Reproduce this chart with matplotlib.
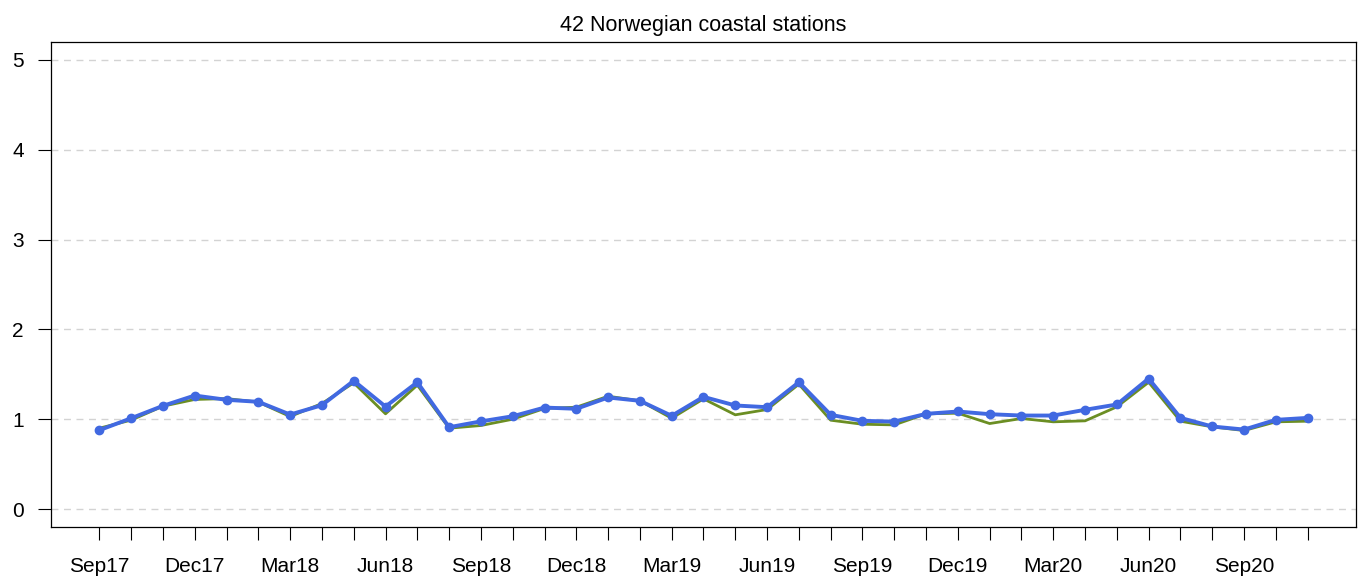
import numpy as np
import pandas as pd
import matplotlib.pyplot as plt
from matplotlib import rcParams
rcParams['font.family'] = ['Liberation Sans', 'DejaVu Sans']

# monthly values, Sep 2017 .. Nov 2020
months = pd.date_range('2017-09-01', periods=39, freq='MS')
green = [0.90, 0.99, 1.145, 1.22, 1.23, 1.19, 1.03, 1.175, 1.405, 1.06,
         1.38, 0.90, 0.93, 1.00, 1.12, 1.134, 1.256, 1.205, 1.011, 1.227,
         1.049, 1.108, 1.39, 0.989, 0.944, 0.937, 1.06, 1.067, 0.952, 1.008,
         0.971, 0.982, 1.138, 1.412, 0.978, 0.915, 0.874, 0.971, 0.978]
blue = [0.878, 1.011, 1.149, 1.264, 1.216, 1.194, 1.052, 1.156, 1.428, 1.141,
        1.412, 0.911, 0.976, 1.033, 1.130, 1.116, 1.242, 1.205, 1.038, 1.249,
        1.153, 1.134, 1.412, 1.049, 0.982, 0.974, 1.060, 1.086, 1.056, 1.041,
        1.041, 1.105, 1.164, 1.453, 1.015, 0.919, 0.885, 0.993, 1.015]
yticks = [0, 1, 2, 3, 4, 5]
title = '42 Norwegian coastal stations'

x = np.arange(len(months))
xlabels = [m.strftime('%b%y') if i % 3 == 0 else '' for i, m in enumerate(months)]

fig = plt.figure(figsize=(13.67, 5.82), dpi=100)
ax = fig.add_axes([51/1367, 1 - 527/582, 1305/1367, 485/582])

for y in yticks:
    ax.axhline(y, color='#d3d3d3', lw=1, ls=(0, (5, 4)), zorder=0)

ax.plot(x, green, color='#6b8e23', lw=2, zorder=2)
ax.plot(x, blue, color='#4169e1', lw=2.8, marker='o', ms=6, zorder=3)

ax.set_xlim(-0.04*38, 38 + 0.04*38)
ax.set_ylim(-0.2, 5.2)
ax.set_xticks(x)
ax.set_xticklabels(xlabels)
ax.set_yticks(yticks)
ax.tick_params(axis='both', length=9.5, width=0.8, labelsize=15, direction='out')
ax.tick_params(axis='x', pad=12)
ax.tick_params(axis='y', pad=10)
for s in ax.spines.values():
    s.set_linewidth(0.9)
ax.set_title(title, fontsize=15.5, pad=8)

fig.savefig('out.png', dpi=100)
